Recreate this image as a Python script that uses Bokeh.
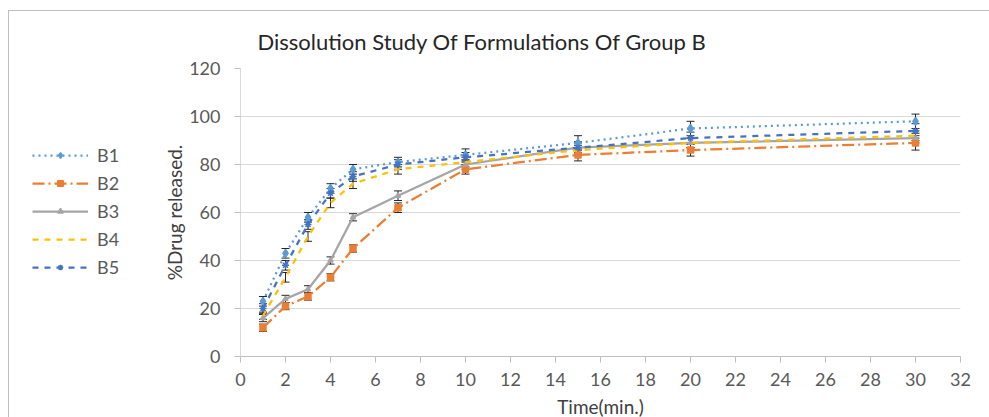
from bokeh.plotting import figure
from bokeh.layouts import row
from bokeh.models import ColumnDataSource, Whisker, TeeHead, Legend, LegendItem, FixedTicker, Title
from bokeh.embed import file_html
from bokeh.resources import INLINE

time_min = [1, 2, 3, 4, 5, 7, 10, 15, 20, 30]
B1 = [23, 43, 58, 70, 78, 81, 84, 89, 95, 98]
B2 = [12, 21, 25, 33, 45, 62, 78, 84, 86, 89]
B3 = [16, 24, 28, 40, 58, 67, 80, 87, 89, 91]
B4 = [17, 33, 50, 64, 72, 78, 81, 86, 89, 92]
B5 = [20, 38, 55, 68, 75, 80, 83, 87, 91, 94]
B1_err = [2, 2, 2, 2, 2, 2, 2.5, 3, 3, 3]
B2_err = [1.5, 1.5, 1.5, 1.5, 1.5, 2, 2, 2.5, 2.5, 3]
B3_err = [1.5, 1.5, 1.5, 1.5, 1.5, 2, 2, 2, 2, 2]
B4_err = [1.5, 2, 2, 2, 2, 2, 2, 2, 2, 2]
B5_err = [2, 2, 2, 2, 2, 2, 2, 2.5, 2.5, 3]

x_ticks = list(range(0, 33, 2))
y_ticks = [0, 20, 40, 60, 80, 100, 120]

FONT = "Lato"
TXT = "#595959"

p = figure(frame_width=720, frame_height=288, x_range=(0, 32), y_range=(0, 120),
           output_backend="svg", toolbar_location=None,
           min_border_left=91, min_border_right=30, min_border_top=57, min_border_bottom=62)
p.outline_line_color = None
p.background_fill_color = "white"
p.border_fill_color = "white"

p.add_layout(Title(text="Dissolution Study Of  Formulations Of Group B", align="left", offset=17,
                   standoff=28, text_font=FONT, text_font_size="22px", text_font_style="normal",
                   text_color="#262626"), "above")

p.xaxis.ticker = FixedTicker(ticks=x_ticks)
p.yaxis.ticker = FixedTicker(ticks=y_ticks)
p.xgrid.grid_line_color = None
p.ygrid.grid_line_color = "#d9d9d9"
p.ygrid.grid_line_width = 1
for ax in (p.xaxis, p.yaxis):
    ax.axis_line_color = "#bfbfbf"
    ax.major_tick_line_color = "#bfbfbf"
    ax.minor_tick_line_color = None
    ax.major_tick_in = 0
    ax.major_tick_out = 6
    ax.major_label_text_font = FONT
    ax.major_label_text_font_size = "18px"
    ax.major_label_text_color = TXT
    ax.axis_label_text_font = FONT
    ax.axis_label_text_font_size = "19px"
    ax.axis_label_text_font_style = "normal"
    ax.axis_label_text_color = "#404040"
p.yaxis.axis_line_color = "#d9d9d9"
p.xaxis.axis_label = "Time(min.)"
p.yaxis.axis_label = "%Drug released."
p.xaxis.major_label_standoff = 10
p.yaxis.major_label_standoff = 14
p.xaxis.axis_label_standoff = 6
p.yaxis.axis_label_standoff = 0

# legend panel (separate small figure with style-only renderers)
lg = figure(frame_width=140, frame_height=288, x_range=(0, 1), y_range=(0, 1),
            output_backend="svg", toolbar_location=None,
            min_border_left=0, min_border_right=0, min_border_top=57, min_border_bottom=62,
            x_axis_location=None, y_axis_location=None)
lg.outline_line_color = None
lg.xgrid.visible = False
lg.ygrid.visible = False
lg.border_fill_color = "white"

series = [
    ("B1", B1, B1_err, "#5b9bd5", "dotted", "diamond", 8),
    ("B2", B2, B2_err, "#ed7d31", "12 4 2 4", "square", 6),
    ("B3", B3, B3_err, "#a5a5a5", "solid", "triangle", 5),
    ("B4", B4, B4_err, "#ffc000", "dashed", None, 0),
    ("B5", B5, B5_err, "#4472c4", "dashed", "asterisk", 7),
]

items = []
for name, vals, err, color, dash, marker, msize in series:
    src = ColumnDataSource(dict(x=time_min, y=vals,
                                lo=[v - e for v, e in zip(vals, err)],
                                hi=[v + e for v, e in zip(vals, err)]))
    p.line("x", "y", source=src, line_color=color, line_width=2.25, line_dash=dash)
    if marker:
        p.scatter("x", "y", source=src, marker=marker, size=msize, fill_color=color,
                  line_color=color, line_width=1.5)
    w = Whisker(source=src, base="x", upper="hi", lower="lo", line_color="#262626", line_width=1,
                upper_head=TeeHead(size=8, line_color="#262626", line_width=1),
                lower_head=TeeHead(size=8, line_color="#262626", line_width=1))
    p.add_layout(w)
    # legend-only renderers: a single NaN point so nothing is drawn in the panel
    dummy = ColumnDataSource(dict(x=[float("nan")], y=[float("nan")]))
    rs = [lg.line("x", "y", source=dummy, line_color=color, line_width=2.25, line_dash=dash)]
    if marker:
        rs.append(lg.scatter("x", "y", source=dummy, marker=marker, size=msize, fill_color=color,
                             line_color=color, line_width=1.5))
    items.append(LegendItem(label=name, renderers=rs, index=0))

legend = Legend(items=items, location=(23, 78), orientation="vertical",
                label_text_font=FONT, label_text_font_size="18px", label_text_color=TXT,
                glyph_width=56, glyph_height=14, label_standoff=9, spacing=6,
                border_line_color=None, background_fill_alpha=0, padding=0, margin=0)
lg.add_layout(legend, "center")

layout = row(lg, p, spacing=0,
             styles={"border": "1px solid #bfbfbf", "margin-left": "8px", "margin-top": "10px",
                     "background": "white"})

open("out.html", "w").write(file_html(layout, INLINE))
